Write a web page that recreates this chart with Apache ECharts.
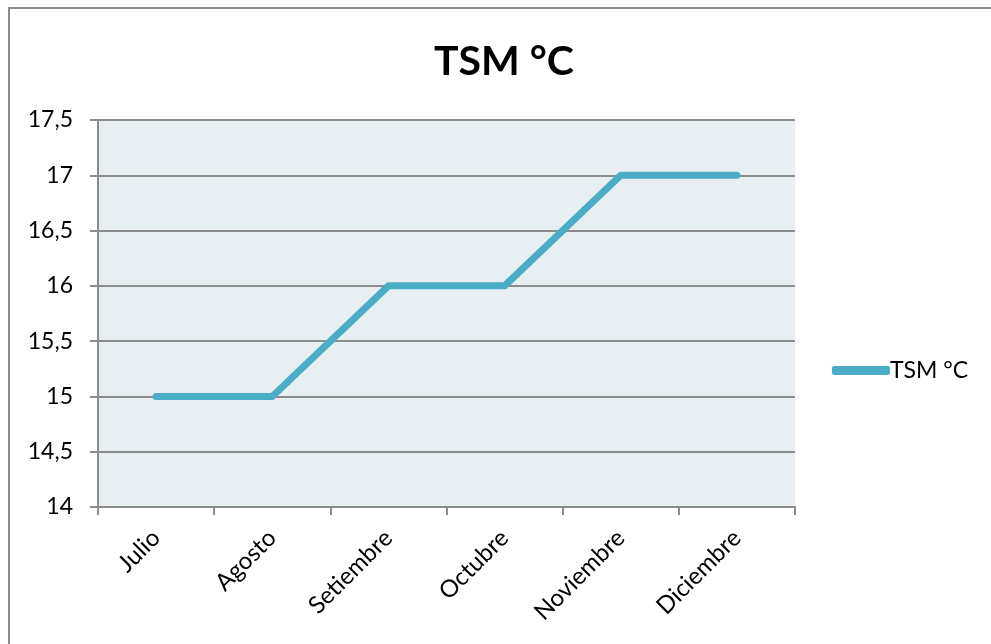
<!DOCTYPE html>
<html>
<head>
<meta charset="utf-8">
<style>
  html, body { margin: 0; padding: 0; background: #ffffff; }
  #chart { width: 991px; height: 644px; }
</style>
<script src="https://cdn.jsdelivr.net/npm/echarts@6/dist/echarts.min.js"></script>
</head>
<body>
<div id="chart"></div>
<script>
// Monthly sea surface temperature (TSM, °C)
const months = ['Julio', 'Agosto', 'Setiembre', 'Octubre', 'Noviembre', 'Diciembre'];
const tsmValues = [15, 15, 16, 16, 17, 17];
const seriesName = 'TSM °C';
const yMin = 14, yMax = 17.5, yStep = 0.5;

const FONT = 'Lato, "Open Sans", "Noto Sans", sans-serif';
const chart = echarts.init(document.getElementById('chart'), null, { renderer: 'canvas' });

chart.setOption({
  animation: false,
  backgroundColor: '#ffffff',
  graphic: [{
    type: 'rect',
    shape: { x: 9, y: 8, width: 1100, height: 800 },
    style: { fill: 'none', stroke: '#8c8c8c', lineWidth: 2 },
    silent: true,
    z: -1
  }],
  title: {
    text: seriesName,
    left: 504,
    textAlign: 'center',
    top: 41,
    padding: 0,
    textStyle: { fontFamily: FONT, fontSize: 41, fontWeight: 'bold', color: '#000000' }
  },
  legend: {
    data: [seriesName],
    left: 832,
    top: 359,
    padding: 0,
    icon: 'roundRect',
    itemWidth: 58,
    itemHeight: 9,
    itemGap: 5,
    textStyle: { fontFamily: FONT, fontSize: 23, color: '#000000', padding: [0, 0, 0, -5] }
  },
  grid: {
    left: 98, right: 196, top: 120, bottom: 137,
    show: true,
    backgroundColor: '#e8eff3',
    borderWidth: 0
  },
  xAxis: {
    type: 'category',
    data: months,
    boundaryGap: true,
    axisLine: { lineStyle: { color: '#8c8c8c', width: 2 } },
    axisTick: { show: true, length: 8, lineStyle: { color: '#8c8c8c', width: 2 } },
    axisLabel: {
      rotate: 45,
      margin: 27,
      fontFamily: FONT,
      fontSize: 24,
      color: '#000000'
    },
    splitLine: { show: false }
  },
  yAxis: {
    type: 'value',
    min: yMin,
    max: yMax,
    interval: yStep,
    axisLine: { show: true, lineStyle: { color: '#8c8c8c', width: 2 } },
    axisTick: { show: true, length: 8, lineStyle: { color: '#8c8c8c', width: 2 } },
    axisLabel: {
      margin: 25,
      fontFamily: FONT,
      fontSize: 23,
      color: '#000000',
      formatter: v => String(v).replace('.', ',')
    },
    splitLine: { show: true, lineStyle: { color: '#8c8c8c', width: 2 } }
  },
  series: [{
    name: seriesName,
    type: 'line',
    data: tsmValues,
    showSymbol: false,
    symbol: 'none',
    lineStyle: { color: '#4bacc6', width: 7, cap: 'round', join: 'round' },
    itemStyle: { color: '#4bacc6' }
  }]
});
</script>
</body>
</html>
